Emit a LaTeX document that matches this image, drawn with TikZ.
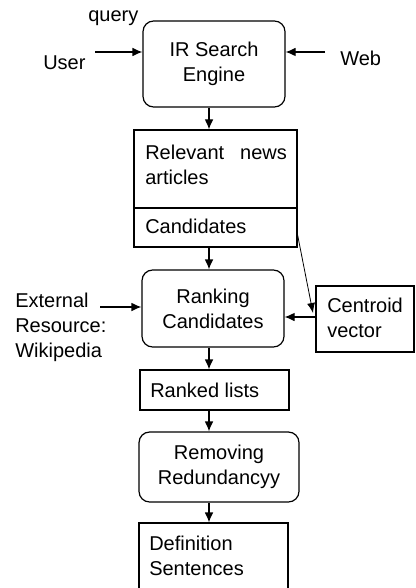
\documentclass[tikz,border=0pt]{standalone}
\usepackage{fontspec}
\setmainfont{Liberation Sans}
\usetikzlibrary{arrows.meta}
\begin{document}
\begin{tikzpicture}[x=0.75pt,y=-0.75pt,
  font=\fontsize{15}{18.75}\selectfont,
  box/.style={draw, line width=0.9pt, inner sep=0pt},
  rbox/.style={box, rounded corners=8pt, align=center},
  lbl/.style={inner sep=0pt, align=left, anchor=west},
  arr/.style={-{Latex[length=7.5pt,width=6.5pt]}, line width=0.9pt},
  thinarr/.style={-{Latex[length=7.5pt,width=6pt]}, line width=0.6pt},
]
\useasboundingbox (0,0) rectangle (415,588);

% boxes
\node[rbox, minimum width=106.5pt, minimum height=64.5pt] (ir) at (214,64) {IR Search\\Engine};
\node[box, minimum width=122.25pt, minimum height=58.5pt] (rel) at (215.5,169) {};
\node[box, minimum width=122.25pt, minimum height=29.25pt] (cand) at (215.5,227.5) {};
\node[rbox, minimum width=106.5pt, minimum height=57.75pt] (rank) at (213,308.5) {Ranking\\Candidates};
\node[box, minimum width=73.5pt, minimum height=49.5pt] (cent) at (365,319) {};
\node[box, minimum width=111.75pt, minimum height=30pt] (rl) at (214.5,390) {};
\node[rbox, minimum width=120pt, minimum height=52.5pt] (rem) at (219,467) {Removing\\Redundancyy};
\node[box, minimum width=111.75pt, minimum height=72.75pt] (def) at (213.5,571.5) {};

% labels in boxes
\node[lbl] (reltxt) at (145,164.5) {Relevant\hspace{12pt}news\\articles};
\node[lbl] (candtxt) at (145,226) {Candidates};
\node[lbl] (centtxt) at (327,317.5) {Centroid\\vector};
\node[lbl] (rltxt) at (150,390) {Ranked lists};
\node[lbl] (deftxt) at (149,555.5) {Definition\\Sentences};

% outside labels
\node[lbl] (query) at (88,18) {query};
\node[lbl] (user) at (43,63) {User};
\node[lbl] (web) at (340,58) {Web};
\node[lbl] (ext) at (15,327.5) {External\\Resource:\\Wikipedia};

% helper coordinates
\coordinate (sp) at (209,0);
\coordinate (userstart) at (95,52);
\coordinate (webstart) at (325,52);
\coordinate (extstart) at (100,307);
\coordinate (cy) at (0,317);
\coordinate (dy) at (0,235);
\coordinate (diagend) at (313,313);

% connectors
\draw[arr] (userstart) -- (userstart -| ir.west);
\draw[arr] (webstart) -- (webstart -| ir.east);
\draw[arr] (sp |- ir.south) -- (sp |- rel.north);
\draw[arr] (sp |- cand.south) -- (sp |- rank.north);
\draw[arr] (extstart) -- (extstart -| rank.west);
\draw[arr] (cy -| cent.west) -- (cy -| rank.east);
\draw[thinarr] (dy -| cand.east) -- (diagend);
\draw[arr] (sp |- rank.south) -- (sp |- rl.north);
\draw[arr] (sp |- rl.south) -- (sp |- rem.north);
\draw[arr] (sp |- rem.south) -- (sp |- def.north);
\end{tikzpicture}
\end{document}
